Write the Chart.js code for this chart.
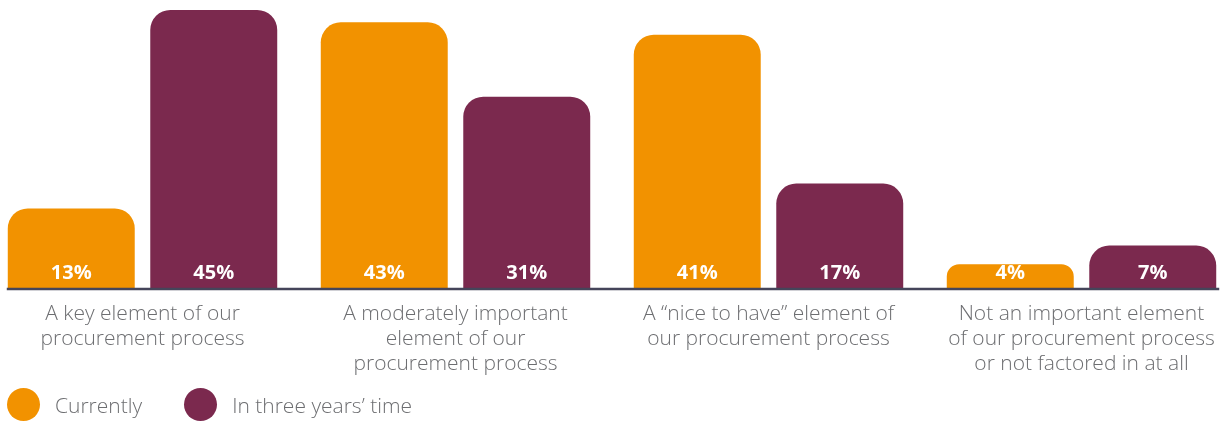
<!DOCTYPE html>
<html lang="en">
<head>
  <meta charset="UTF-8"/>
  <title>Procurement importance</title>
  <script src="https://cdn.jsdelivr.net/npm/chart.js"></script>
  <style>
    html, body { margin: 0; padding: 0; background: #ffffff; overflow: hidden; }
    body { width: 1225px; height: 421px; position: relative; font-family: 'Open Sans', sans-serif; }
    .chart-wrap { position: absolute; top: 0; left: -14px; width: 1252px; height: 390px; }
    .legend { position: absolute; left: 7px; top: 388px; display: flex; align-items: center; }
    .legend-item { display: flex; align-items: center; margin-right: 42px; color: #6d6e71; font-size: 21px; font-weight: 300; }
    .legend-dot { width: 33px; height: 33px; border-radius: 50%; margin-right: 15px; }
  </style>
</head>
<body>

<div class="chart-wrap">
  <canvas id="importanceChart"></canvas>
</div>
<div class="legend" id="legend"></div>

<script>
const categories = [
  ['A key element of our', 'procurement process'],
  ['A moderately important', 'element of our', 'procurement process'],
  ['A \u201cnice to have\u201d element of', 'our procurement process'],
  ['Not an important element', 'of our procurement process', 'or not factored in at all']
];
const seriesNames = ['Currently', 'In three years\u2019 time'];
const currently = [13, 43, 41, 4];
const inThreeYears = [45, 31, 17, 7];

const orange = '#f29200';
const plum = '#7b294e';
const grey = '#6d6e71';

// white percentage written at the foot of every bar
const valueLabels = {
  id: 'valueLabels',
  afterDatasetsDraw(chart) {
    const ctx = chart.ctx;
    ctx.save();
    ctx.fillStyle = '#ffffff';
    ctx.font = "700 20px 'Open Sans', sans-serif";
    ctx.textAlign = 'center';
    ctx.textBaseline = 'alphabetic';
    chart.data.datasets.forEach((ds, i) => {
      chart.getDatasetMeta(i).data.forEach((bar, j) => {
        ctx.fillText(ds.data[j] + '%', bar.x, bar.base - 10);
      });
    });
    ctx.restore();
  }
};

// dark baseline running under the bars
const baseline = {
  id: 'baseline',
  afterDatasetsDraw(chart) {
    const bars = chart.getDatasetMeta(0).data.concat(chart.getDatasetMeta(1).data);
    let x0 = Infinity, x1 = -Infinity;
    bars.forEach(b => {
      x0 = Math.min(x0, b.x - b.width / 2);
      x1 = Math.max(x1, b.x + b.width / 2);
    });
    const y = chart.chartArea.bottom;
    const ctx = chart.ctx;
    ctx.save();
    ctx.strokeStyle = '#45455a';
    ctx.lineWidth = 2.5;
    ctx.beginPath();
    ctx.moveTo(x0 - 1, y);
    ctx.lineTo(x1 + 3, y);
    ctx.stroke();
    ctx.restore();
  }
};

const chart = new Chart(document.getElementById('importanceChart'), {
  type: 'bar',
  data: {
    labels: categories,
    datasets: [
      { label: seriesNames[0], data: currently, backgroundColor: orange },
      { label: seriesNames[1], data: inThreeYears, backgroundColor: plum }
    ]
  },
  options: {
    responsive: true,
    maintainAspectRatio: false,
    animation: false,
    layout: { padding: 0 },
    datasets: {
      bar: {
        categoryPercentage: 0.9105,
        barPercentage: 0.891,
        borderRadius: 20,
        borderSkipped: 'bottom'
      }
    },
    scales: {
      x: {
        grid: { display: false, drawTicks: false },
        border: { display: false },
        ticks: {
          color: grey,
          padding: 13,
          maxRotation: 0,
          autoSkip: false,
          font: { family: "'Open Sans', sans-serif", size: 21, weight: 300, lineHeight: '25px' }
        }
      },
      y: {
        display: false,
        min: 0,
        max: 46.6
      }
    },
    plugins: {
      legend: { display: false },
      tooltip: { enabled: false }
    }
  },
  plugins: [valueLabels, baseline]
});

// legend built from the datasets
const legendEl = document.getElementById('legend');
chart.data.datasets.forEach(ds => {
  const item = document.createElement('div');
  item.className = 'legend-item';
  const dot = document.createElement('span');
  dot.className = 'legend-dot';
  dot.style.background = ds.backgroundColor;
  const text = document.createElement('span');
  text.textContent = ds.label;
  item.appendChild(dot);
  item.appendChild(text);
  legendEl.appendChild(item);
});
</script>
</body>
</html>
